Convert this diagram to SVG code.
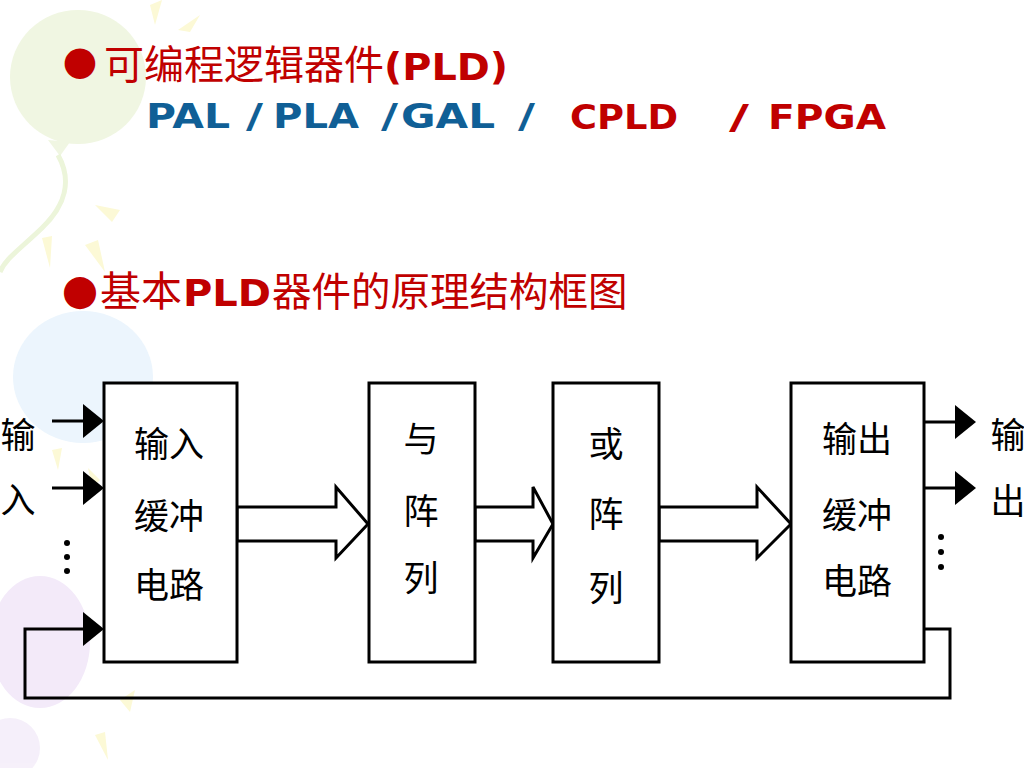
<svg xmlns="http://www.w3.org/2000/svg" width="1024" height="768" viewBox="0 0 1024 768">
<defs>
<style>
.box{fill:#ffffff;stroke:#000;stroke-width:3}
.ln{fill:none;stroke:#000;stroke-width:3}
.blk{fill:#ffffff;stroke:#000;stroke-width:3;stroke-linejoin:miter}
.head{fill:#000;stroke:none}
.dot{fill:#000}
.cj{font-family:"Noto Sans CJK SC","Noto Sans CJK TC",sans-serif;font-size:35px;fill:#000;text-anchor:middle}
.red{fill:#c00000}
.blue{fill:#105f96}
.hz{font-family:"Noto Sans CJK SC",sans-serif}
.lat{font-family:"DejaVu Sans","Verdana",sans-serif;font-weight:bold}
.bul{font-family:"DejaVu Sans",sans-serif;fill:#c00000;text-anchor:middle}
</style>
</defs>
<rect width="1024" height="768" fill="#ffffff"/>
<g id="background" opacity="0.9">
<ellipse cx="78" cy="77" rx="68" ry="67" fill="#eff6df"/>
<path d="M48,140 L70,142 L60,156 Z" fill="#eff6df"/>
<path d="M58,155 C72,180 66,205 42,228 S6,258 0,272" fill="none" stroke="#ebf4d6" stroke-width="5"/>
<ellipse cx="83" cy="377" rx="70" ry="66" fill="#eaf5fd"/>
<ellipse cx="40" cy="642" rx="50" ry="66" fill="#f2e8f9"/>
<ellipse cx="10" cy="748" rx="30" ry="30" fill="#f5eefa"/>
<g fill="#fcf9d2">
<path d="M150,5 L162,0 L155,25 Z"/>
<path d="M178,30 L200,15 L190,32 Z"/>
<path d="M95,205 L120,210 L112,222 Z"/>
<path d="M42,238 L52,236 L50,268 Z"/>
<path d="M85,245 L98,240 L105,272 Z"/>
<path d="M52,450 L62,448 L58,470 Z"/>
<path d="M88,468 L100,480 L92,488 Z"/>
<path d="M120,700 L135,690 L130,712 Z"/>
<path d="M95,735 L105,732 L108,760 Z"/>
</g>
</g>

<g id="title">
<text class="bul" x="80" y="74" font-size="40">●</text>
<text class="hz red" x="104" y="79" font-size="40">可编程逻辑器件</text>
<text class="lat red" x="384" y="80" font-size="37" textLength="124" lengthAdjust="spacingAndGlyphs">(PLD)</text>
</g>
<g id="subtitle">
<text class="lat blue" x="146" y="128" font-size="34" textLength="84" lengthAdjust="spacingAndGlyphs">PAL</text>
<text class="lat blue" x="246" y="128" font-size="34" textLength="17" lengthAdjust="spacingAndGlyphs">/</text>
<text class="lat blue" x="273" y="128" font-size="34" textLength="86" lengthAdjust="spacingAndGlyphs">PLA</text>
<text class="lat blue" x="381" y="128" font-size="34" textLength="17" lengthAdjust="spacingAndGlyphs">/</text>
<text class="lat blue" x="401" y="128" font-size="34" textLength="94" lengthAdjust="spacingAndGlyphs">GAL</text>
<text class="lat blue" x="518" y="128" font-size="34" textLength="17" lengthAdjust="spacingAndGlyphs">/</text>
<text class="lat red" x="570" y="129" font-size="34" textLength="108" lengthAdjust="spacingAndGlyphs">CPLD</text>
<text class="lat red" x="729" y="129" font-size="34" textLength="20" lengthAdjust="spacingAndGlyphs">/</text>
<text class="lat red" x="768" y="129" font-size="34" textLength="118" lengthAdjust="spacingAndGlyphs">FPGA</text>
</g>
<g id="heading2">
<text class="bul" x="80" y="304" font-size="42">●</text>
<text class="hz red" x="100" y="306" font-size="41">基本</text>
<text class="lat red" x="183" y="306" font-size="38" textLength="88" lengthAdjust="spacingAndGlyphs">PLD</text>
<text class="hz red" x="272" y="306" font-size="39.5">器件的原理结构框图</text>
</g>

<g id="connectors">
<polygon class="blk" points="237,507 336,507 336,487 368,524 336,558 336,541 237,541"/>
<polygon class="blk" points="475,507 533,507 533,487 553,524 533,558 533,541 475,541"/>
<polygon class="blk" points="659,507 757,507 757,487 791,524 757,558 757,541 659,541"/>
<line class="ln" x1="52" y1="421" x2="86" y2="421"/>
<polygon class="head" points="83,404 104,421 83,438"/>
<line class="ln" x1="52" y1="488" x2="86" y2="488"/>
<polygon class="head" points="83,471 104,488 83,505"/>
<polyline class="ln" points="924,629 950,629 950,698 25,698 25,629 86,629"/>
<polygon class="head" points="83,612 104,629 83,646"/>
<line class="ln" x1="924" y1="422" x2="958" y2="422"/>
<polygon class="head" points="955,405 976,422 955,439"/>
<line class="ln" x1="924" y1="488" x2="958" y2="488"/>
<polygon class="head" points="955,471 976,488 955,505"/>
<circle class="dot" cx="67" cy="543" r="3"/>
<circle class="dot" cx="67" cy="557" r="3"/>
<circle class="dot" cx="67" cy="571" r="3"/>
<circle class="dot" cx="941" cy="537" r="3"/>
<circle class="dot" cx="941" cy="552" r="3"/>
<circle class="dot" cx="941" cy="567" r="3"/>
</g>

<g id="input-label">
<text class="cj" x="18" y="448">输</text>
<text class="cj" x="18" y="513">入</text>
</g>
<g id="output-label">
<text class="cj" x="1008" y="448">输</text>
<text class="cj" x="1008" y="514">出</text>
</g>

<g id="input-buffer">
<rect class="box" x="104" y="383" width="133" height="279"/>
<text class="cj" x="169" y="457">输入</text>
<text class="cj" x="169" y="529">缓冲</text>
<text class="cj" x="169" y="598">电路</text>
</g>
<g id="and-array">
<rect class="box" x="369" y="383" width="106" height="279"/>
<text class="cj" x="421" y="452">与</text>
<text class="cj" x="421" y="524">阵</text>
<text class="cj" x="421" y="591">列</text>
</g>
<g id="or-array">
<rect class="box" x="553" y="383" width="106" height="279"/>
<text class="cj" x="606" y="457">或</text>
<text class="cj" x="606" y="527">阵</text>
<text class="cj" x="606" y="601">列</text>
</g>
<g id="output-buffer">
<rect class="box" x="791" y="383" width="133" height="279"/>
<text class="cj" x="857" y="452">输出</text>
<text class="cj" x="857" y="528">缓冲</text>
<text class="cj" x="857" y="594">电路</text>
</g>
</svg>
